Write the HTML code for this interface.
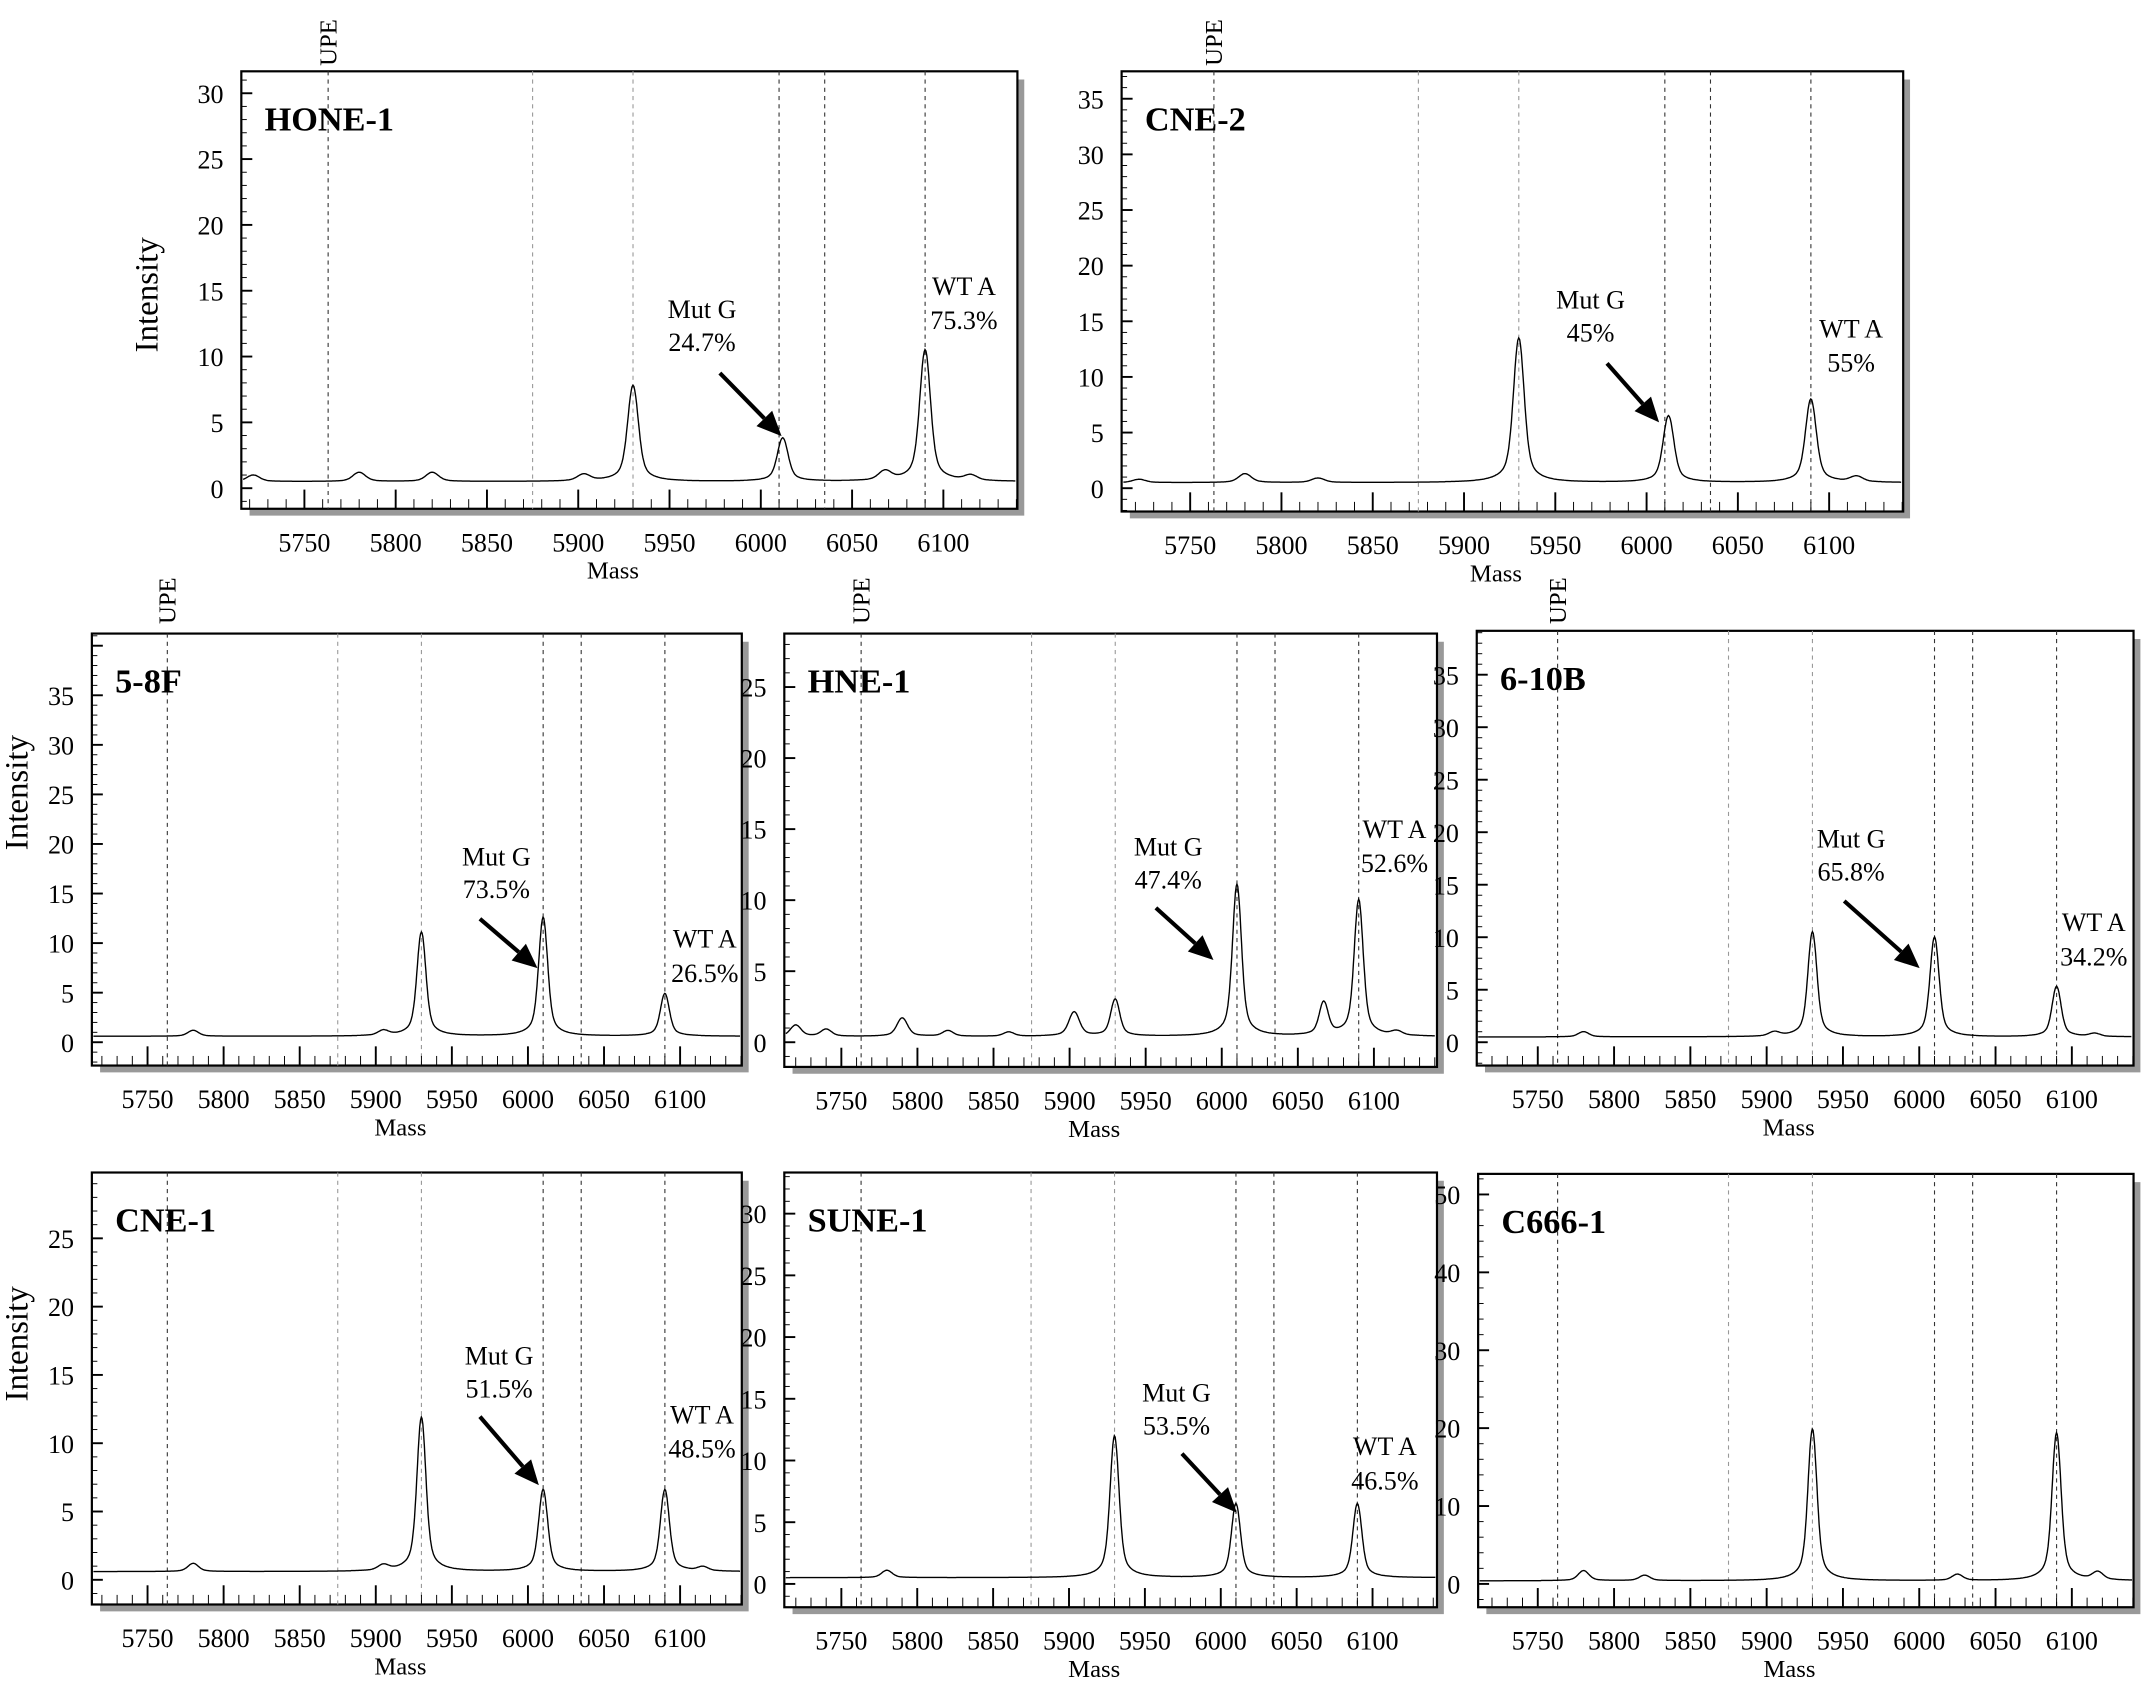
<!DOCTYPE html>
<html><head><meta charset="utf-8">
<style>
html,body{margin:0;padding:0;background:#fff;}
svg{display:block;}
text{font-family:"Liberation Serif",serif;fill:#000;}
</style></head>
<body>
<svg id="fig" width="2150" height="1695" viewBox="0 0 1568 1236" preserveAspectRatio="none" xmlns="http://www.w3.org/2000/svg"></svg>
<script>
// ---- data ----
const panelNames = ["HONE-1","CNE-2","5-8F","HNE-1","6-10B","CNE-1","SUNE-1","C666-1"];
const yMaxes = [30,35,35,25,35,25,30,50];
const yStepsMajor = [5,5,5,5,5,5,5,10];
const markerMasses = [5763,5875,5930,6010,6035,6090];
const xTickValues = [5750,5800,5850,5900,5950,6000,6050,6100];
const baselines = [0.5,0.5,0.6,0.4,0.5,0.6,0.5,0.4];
const peakCenters = [
  [5722,5780,5820,5903,5930,6012,6068,6090,6115],
  [5722,5780,5820,5930,6012,6090,6115],
  [5780,5905,5930,6010,6090],
  [5720,5740,5790,5820,5860,5903,5930,6010,6067,6090,6115],
  [5780,5905,5930,6010,6090,6115],
  [5780,5905,5930,6010,6090,6115],
  [5780,5930,6010,6090],
  [5780,5820,5930,6025,6090,6117]
];
const peakHeights = [
  [0.5,0.7,0.7,0.5,7.3,3.3,0.7,10,0.4],
  [0.3,0.8,0.4,13,6,7.5,0.5],
  [0.6,0.5,10.5,12,4.3],
  [0.8,0.5,1.3,0.4,0.3,1.7,2.6,10.7,2.3,9.6,0.3],
  [0.5,0.4,10,9.5,4.8,0.3],
  [0.6,0.4,11.3,6,6,0.3],
  [0.6,11.5,6,6],
  [1.3,0.7,19.5,0.8,19,1]
];
const mutLabels = ["24.7%","45%","73.5%","47.4%","65.8%","51.5%","53.5%",null];
const wtLabels = ["75.3%","55%","26.5%","52.6%","34.2%","48.5%","46.5%",null];

// ---- layout (display-space pixels) ----
const boxes = [
  {L:176,T:52,R:742,B:371,p1:222,p2:688,y0:356,yT:68},
  {L:818,T:52,R:1388,B:373,p1:868,p2:1334,y0:356,yT:72},
  {L:67,T:462,R:541,B:777,p1:107.6,p2:496,y0:760,yT:507},
  {L:572,T:462,R:1048,B:778,p1:613.6,p2:1002,y0:760,yT:501},
  {L:1077,T:460,R:1556,B:777,p1:1121.5,p2:1511,y0:760,yT:492},
  {L:67,T:855,R:541,B:1170,p1:107.6,p2:496,y0:1152,yT:903},
  {L:572,T:855,R:1048,B:1172,p1:613.6,p2:1001,y0:1155,yT:885},
  {L:1078,T:856,R:1556,B:1172,p1:1121.5,p2:1511,y0:1155,yT:871}
];
const annot = [
  {mx:512,my:232,a:[525,272,570,318],wx:703,wy:215},
  {mx:1160,my:225,a:[1172,265,1210,308],wx:1350,wy:246},
  {mx:362,my:631,a:[350,670,392,706],wx:514,wy:691},
  {mx:852,my:624,a:[843,662,885,700],wx:1017,wy:611},
  {mx:1350,my:618,a:[1345,657,1400,706],wx:1527,wy:679},
  {mx:364,my:995,a:[350,1033,393,1083],wx:512,wy:1038},
  {mx:858,my:1022,a:[862,1060,902,1103],wx:1010,wy:1061}
];
const upeLabelY = [48,48,455,455,455];
const intensityPos = [[115,215],[20,578],[20,980]];

const NS="http://www.w3.org/2000/svg";
const svg=document.getElementById('fig');
function el(tag,attrs,parent){const e=document.createElementNS(NS,tag);for(const k in attrs)e.setAttribute(k,attrs[k]);(parent||svg).appendChild(e);return e;}

boxes.forEach((b,i)=>{
  const g=el('g',{});
  
  
  const xs=m=>b.p1+(m-5750)*(b.p2-b.p1)/350;
  const ys=v=>b.y0-(v*(b.y0-b.yT)/yMaxes[i]);
  const mL=5750+(b.L-b.p1)*350/(b.p2-b.p1), mR=5750+(b.R-b.p1)*350/(b.p2-b.p1);
  const sh=el('path',{d:`M${b.R} ${b.T+6}h5v${b.B-b.T-1}h-${b.R-b.L-1}v-5`,fill:'#999',stroke:'none'},g);
  
  
  const fr=el('rect',{x:b.L,y:b.T,width:b.R-b.L,height:b.B-b.T,fill:'#fff',stroke:'#000','stroke-width':1.6},g);
  
  
  markerMasses.forEach((m,j)=>{
    const gray=(j===1||j===2);
    const ln=el('line',{x1:xs(m),x2:xs(m),y1:b.T,y2:b.B,stroke:gray?'#999':'#333','stroke-width':0.8,'stroke-dasharray':'3,3'},g);
    
    
  });
  for(let m=5720;m<=mR;m+=10){
    if(m<mL)continue;
    const major=m%50===0;
    el('line',{x1:xs(m),x2:xs(m),y1:b.B,y2:b.B-(major?14:7),stroke:'#000','stroke-width':major?1.4:0.7},g);
  }
  xTickValues.forEach(v=>{
    const t=el('text',{x:xs(v),y:b.B+31,'font-size':19,'text-anchor':'middle'},g);t.textContent=v;
    
    
  });
  const xl=el('text',{x:(b.L+b.R)/2-12,y:b.B+51,'font-size':18,'text-anchor':'middle'},g);xl.textContent='Mass';
  
  
  const yminV=-(b.B-b.y0)/(b.y0-b.yT)*yMaxes[i];
  const ymaxV=(b.y0-b.T)/(b.y0-b.yT)*yMaxes[i];
  const minor=yStepsMajor[i]/5;
  for(let v=Math.ceil(yminV/minor)*minor;v<=ymaxV;v+=minor){
    const r=v/yStepsMajor[i];
    const major=Math.abs(r-Math.round(r))<1e-6;
    el('line',{x1:b.L,x2:b.L+(major?8:4),y1:ys(v),y2:ys(v),stroke:'#000','stroke-width':major?1.4:0.7},g);
  }
  for(let v=0;v<=yMaxes[i];v+=yStepsMajor[i]){
    const t=el('text',{x:b.L-13,y:ys(v)+7,'font-size':19,'text-anchor':'end'},g);t.textContent=v;
    
    
  }
  let d='';
  for(let m=mL+1;m<=mR-1;m+=0.5){
    let v=baselines[i];
    peakCenters[i].forEach((c,k)=>{
      const h=peakHeights[i][k];
      const w=h>2?3.8:4.5;
      const z=(m-c)/w;
      const z2=(m-c)/(w*1.5);
      v+=h*(0.7*Math.exp(-z*z)+0.3/(1+z2*z2));
    });
    d+=(d?'L':'M')+xs(m).toFixed(1)+' '+ys(v).toFixed(1);
  }
  const sp=el('path',{d:d,fill:'none',stroke:'#000','stroke-width':1},g);
  
  
  const tt=el('text',{x:b.L+17,y:b.T+43,'font-size':25,'font-weight':'bold'},g);tt.textContent=panelNames[i];
  
  
  if(i<5){
    const ux=xs(5763)+6, uy=upeLabelY[i];
    const u=el('text',{x:ux,y:uy,'font-size':18,transform:`rotate(-90 ${ux} ${uy})`},g);u.textContent='UPE';
    
    
  }
  if(i<7){
    const a=annot[i];
    [['Mut G',a.mx,a.my],[mutLabels[i],a.mx,a.my+24],['WT A',a.wx,a.wy],[wtLabels[i],a.wx,a.wy+25]].forEach((s,k)=>{
      const t=el('text',{x:s[1],y:s[2],'font-size':19,'text-anchor':'middle'},g);t.textContent=s[0];
      
      
    });
    const x1=a.a[0],y1=a.a[1],x2=a.a[2],y2=a.a[3];
    const ang=Math.atan2(y2-y1,x2-x1);const HL=18,HW=8;
    const bx=x2-HL*Math.cos(ang),by=y2-HL*Math.sin(ang);
    const ar=el('g',{},g);
    
    
    el('line',{x1:x1,y1:y1,x2:bx,y2:by,stroke:'#000','stroke-width':3},ar);
    el('polygon',{points:`${x2},${y2} ${bx-HW*Math.sin(ang)},${by+HW*Math.cos(ang)} ${bx+HW*Math.sin(ang)},${by-HW*Math.cos(ang)}`,fill:'#000'},ar);
  }
});
intensityPos.forEach(p=>{
  const t=el('text',{x:p[0],y:p[1],'font-size':24,'text-anchor':'middle',transform:`rotate(-90 ${p[0]} ${p[1]})`});
  t.textContent='Intensity';
  
  
});
</script>
</body></html>
